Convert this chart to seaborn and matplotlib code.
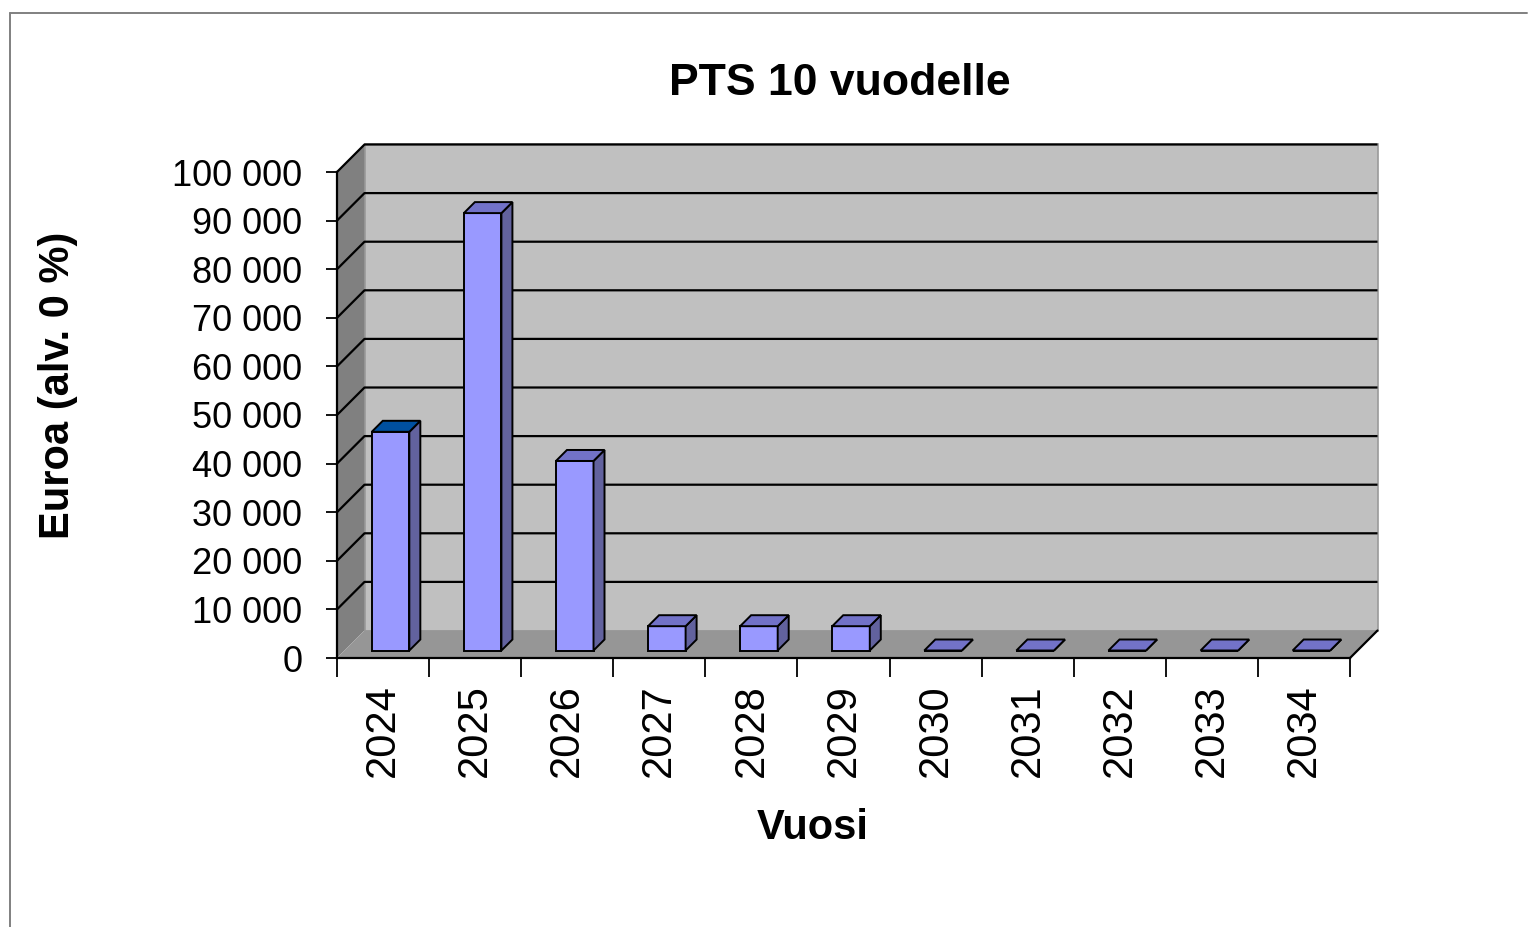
import matplotlib
matplotlib.use("Agg")
import matplotlib.pyplot as plt
import seaborn as sns
import pandas as pd
from matplotlib.patches import Polygon, Rectangle
from matplotlib.lines import Line2D
from matplotlib.ticker import FuncFormatter, MultipleLocator

# data
years = ["2024", "2025", "2026", "2027", "2028", "2029", "2030", "2031", "2032", "2033", "2034"]
costs = [45000, 90000, 39000, 5000, 5000, 5000, 0, 0, 0, 0, 0]
y_ticks = [0, 10000, 20000, 30000, 40000, 50000, 60000, 70000, 80000, 90000, 100000]

title = "PTS 10 vuodelle"
x_label = "Vuosi"
y_label = "Euroa (alv. 0 %)"

sns.set_style("white")
plt.rcParams["font.family"] = ["Liberation Sans", "DejaVu Sans"]
plt.rcParams["text.color"] = "black"
plt.rcParams["axes.labelcolor"] = "black"
plt.rcParams["xtick.color"] = "black"
plt.rcParams["ytick.color"] = "black"

W, H = 1529, 927
fig = plt.figure(figsize=(W / 100, H / 100), dpi=100)

# front plane of the pseudo 3d box, in pixels
left, right, bottom, top = 337, 1350, 658, 172
ax = fig.add_axes([left / W, 1 - bottom / H, (right - left) / W, (bottom - top) / H])
ax.patch.set_visible(False)

ymax = 100000
n = len(years)
px_x = (right - left) / n          # pixels per category
px_y = (bottom - top) / ymax       # pixels per euro


def shift(p):
    # depth offset of p pixels -> data units
    return p / px_x, p / px_y


depth = 27.5
dx, dy = shift(depth)

# walls and floor
back = Rectangle((-0.5 + dx, dy), n, ymax, facecolor="#c0c0c0", edgecolor="#9a9a9a",
                 lw=1.2, clip_on=False, zorder=0.1)
ax.add_patch(back)
side = Polygon([(-0.5, 0), (-0.5 + dx, dy), (-0.5 + dx, ymax + dy), (-0.5, ymax)],
               closed=True, facecolor="#808080", edgecolor="none", clip_on=False, zorder=0.2)
ax.add_patch(side)
floor = Polygon([(-0.5, 0), (-0.5 + dx, dy), (n - 0.5 + dx, dy), (n - 0.5, 0)],
                closed=True, facecolor="#969696", edgecolor="none", clip_on=False, zorder=0.3)
ax.add_patch(floor)
walls = (back, side, floor)

for v in y_ticks[1:]:
    ax.plot([-0.5, -0.5 + dx, n - 0.5 + dx], [v, v + dy, v + dy], color="black",
            lw=1.6, clip_on=False, zorder=0.4, solid_capstyle="butt")
ax.plot([n - 0.5, n - 0.5 + dx], [0, dy], color="black", lw=1.6, clip_on=False, zorder=0.4)

# front faces of the bars
df = pd.DataFrame({"year": years, "cost": costs})
sns.barplot(data=df, x="year", y="cost", color="#9999ff", saturation=1, width=0.408,
            edgecolor="black", linewidth=1.4, ax=ax, zorder=2)

# side and top faces
fx, fy = shift(7.5)
bx, by = shift(11)
top_colors = ["#0050a0"] + ["#7272c8"] * (n - 1)
bars = [p for p in ax.patches if p not in walls]
for patch, tc in zip(bars, top_colors):
    x0 = patch.get_x() + fx
    h = patch.get_height()
    w = patch.get_width()
    patch.set_x(x0)
    patch.set_y(fy)
    patch.set_clip_on(False)
    y1 = fy + h
    ax.add_patch(Polygon([(x0 + w, fy), (x0 + w + bx, fy + by), (x0 + w + bx, y1 + by), (x0 + w, y1)],
                         closed=True, facecolor="#62629e", edgecolor="black", lw=1.4,
                         clip_on=False, zorder=2))
    ax.add_patch(Polygon([(x0, y1), (x0 + bx, y1 + by), (x0 + w + bx, y1 + by), (x0 + w, y1)],
                         closed=True, facecolor=tc, edgecolor="black", lw=1.4,
                         clip_on=False, zorder=2))

ax.set_xlim(-0.5, n - 0.5)
ax.set_ylim(0, ymax)

# axes
for s in ["top", "right"]:
    ax.spines[s].set_visible(False)
for s in ["left", "bottom"]:
    ax.spines[s].set_color("black")
    ax.spines[s].set_linewidth(1.6)
    ax.spines[s].set_zorder(3)

ax.set_yticks(y_ticks)
ax.yaxis.set_major_formatter(FuncFormatter(lambda v, p: f"{int(v):,}".replace(",", " ")))
ax.tick_params(axis="y", which="major", left=True, length=8, width=1.3, color="black",
               labelsize=26, pad=17)
ax.xaxis.set_minor_locator(MultipleLocator(1, offset=0.5))
ax.tick_params(axis="x", which="minor", bottom=True, length=14, width=1.3, color="black")
ax.tick_params(axis="x", which="major", bottom=False, length=0, labelsize=30, pad=19,
               labelrotation=90)

ax.set_xlabel(x_label, fontsize=30, fontweight="bold", va="center")
ax.xaxis.set_label_coords((813 - left) / (right - left), (bottom - 828) / (bottom - top))
ax.set_ylabel(y_label, fontsize=30, fontweight="bold", va="center")
ax.yaxis.set_label_coords((58 - left) / (right - left), (bottom - 385) / (bottom - top))
ax.set_title(title, fontsize=32, fontweight="bold", va="center",
             x=(840 - left) / (right - left), y=(bottom - 92) / (bottom - top))

# outer chart border
fig.add_artist(Line2D([10 / W, 10 / W], [0, 1 - 13 / H], color="#808080", lw=1.4))
fig.add_artist(Line2D([10 / W, 1527 / W], [1 - 13 / H, 1 - 13 / H], color="#808080", lw=1.4))

fig.savefig("out.png", dpi=100)
